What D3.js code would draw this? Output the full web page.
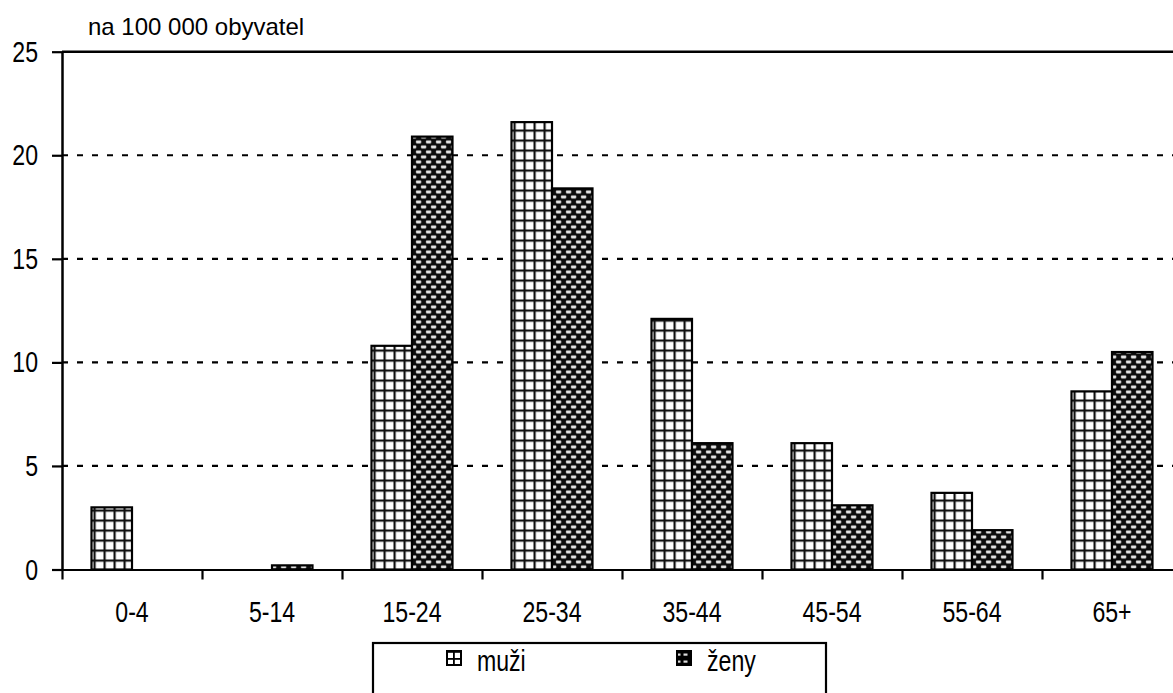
<!DOCTYPE html>
<html>

<head>
    <meta charset="utf-8">
    <title>na 100 000 obyvatel</title>
    <script src="https://d3js.org/d3.v7.min.js"></script>
    <style>
        body { margin: 0; background: #fff; }
        .lbl { font-family: "Liberation Sans", Arial, sans-serif; font-size: 30px; fill: #000; }
        .ttl { font-family: "Liberation Sans", Arial, sans-serif; font-size: 24px; fill: #000; }
    </style>
</head>

<body>
    <script>
        // data
        const categories = ["0-4", "5-14", "15-24", "25-34", "35-44", "45-54", "55-64", "65+"];
        const series = ["muži", "ženy"];
        const muzi = [3.0, 0, 10.8, 21.6, 12.1, 6.1, 3.7, 8.6];
        const zeny = [0, 0.2, 20.9, 18.4, 6.1, 3.1, 1.9, 10.5];
        const yTicks = [0, 5, 10, 15, 20, 25];

        const W = 1173, H = 693;
        const plotLeft = 62, plotBottom = 569.5, plotTop = 51.7;
        const catW = 140;
        const narrow = 0.77; // squeeze text horizontally, no narrow font available

        const svg = d3.select("body").append("svg")
            .attr("width", W).attr("height", H);

        const defs = svg.append("defs");

        // grid pattern (muži)
        const pGrid = defs.append("pattern").attr("id", "grid")
            .attr("patternUnits", "userSpaceOnUse")
            .attr("x", 91.5).attr("y", plotBottom)
            .attr("width", 10).attr("height", 10);
        pGrid.append("rect").attr("width", 10).attr("height", 10).attr("fill", "#fff");
        pGrid.append("rect").attr("x", -0.8).attr("width", 3).attr("height", 10).attr("fill", "#111");
        pGrid.append("rect").attr("y", -0.8).attr("width", 10).attr("height", 3).attr("fill", "#111");

        // brick dash pattern (ženy)
        const pBrick = defs.append("pattern").attr("id", "brick")
            .attr("patternUnits", "userSpaceOnUse")
            .attr("x", 132).attr("y", plotBottom)
            .attr("width", 10).attr("height", 10);
        pBrick.append("rect").attr("width", 10).attr("height", 10).attr("fill", "#0d0d0d");
        [[1.8, 1], [6.8, 6], [-3.2, 6]].forEach(d => {
            pBrick.append("rect").attr("x", d[0]).attr("y", d[1])
                .attr("width", 5.6).attr("height", 3).attr("rx", 1.4)
                .attr("fill", "#e2e2e2");
        });

        // small versions for the legend
        const lGrid = defs.append("pattern").attr("id", "lgrid")
            .attr("patternUnits", "userSpaceOnUse")
            .attr("x", 447).attr("y", 651)
            .attr("width", 7).attr("height", 7);
        lGrid.append("rect").attr("width", 7).attr("height", 7).attr("fill", "#fff");
        lGrid.append("rect").attr("x", -1.2).attr("width", 3).attr("height", 7).attr("fill", "#000");
        lGrid.append("rect").attr("y", -1.2).attr("width", 7).attr("height", 3).attr("fill", "#000");

        const lBrick = defs.append("pattern").attr("id", "lbrick")
            .attr("patternUnits", "userSpaceOnUse")
            .attr("x", 677).attr("y", 651)
            .attr("width", 7).attr("height", 7);
        lBrick.append("rect").attr("width", 7).attr("height", 7).attr("fill", "#000");
        lBrick.append("rect").attr("x", 1.5).attr("y", 2.5).attr("width", 4).attr("height", 2.2).attr("fill", "#ddd");

        const fills = { "muži": "url(#grid)", "ženy": "url(#brick)" };
        const legendFills = { "muži": "url(#lgrid)", "ženy": "url(#lbrick)" };
        const values = { "muži": muzi, "ženy": zeny };

        // scales
        const x0 = d3.scaleBand().domain(categories)
            .range([plotLeft, plotLeft + catW * categories.length]);
        const x1 = d3.scaleBand().domain(series).range([29.5, 110.5]);
        const xEdge = d3.scaleLinear().domain([0, categories.length])
            .range([plotLeft, plotLeft + catW * categories.length]);
        const y = d3.scaleLinear().domain([0, 25]).range([plotBottom, plotTop]);

        // gridlines
        svg.append("g").selectAll("line")
            .data(yTicks.filter(t => t > 0 && t < 25))
            .join("line")
            .attr("x1", plotLeft).attr("x2", W)
            .attr("y1", d => y(d)).attr("y2", d => y(d))
            .attr("stroke", "#000").attr("stroke-width", 2.2)
            .attr("stroke-dasharray", "6,9");
        svg.append("line")
            .attr("x1", plotLeft).attr("x2", W)
            .attr("y1", y(25)).attr("y2", y(25))
            .attr("stroke", "#000").attr("stroke-width", 2.4);

        // bars
        const groups = svg.append("g").selectAll("g")
            .data(categories)
            .join("g")
            .attr("transform", d => `translate(${x0(d)},0)`);
        groups.selectAll("rect")
            .data((c, i) => series.map(s => ({ s: s, v: values[s][i] })))
            .join("rect")
            .attr("x", d => x1(d.s))
            .attr("width", x1.bandwidth())
            .attr("y", d => y(d.v))
            .attr("height", d => y(0) - y(d.v))
            .attr("fill", d => fills[d.s])
            .attr("stroke", "#000").attr("stroke-width", 2.2);

        // y axis
        const yAxis = svg.append("g").attr("transform", `translate(${plotLeft},0)`)
            .call(d3.axisLeft(y).tickValues(yTicks).tickSize(10).tickSizeOuter(0).tickPadding(14));
        yAxis.select(".domain").attr("stroke", "#000").attr("stroke-width", 2.5);
        yAxis.selectAll(".tick line").attr("stroke", "#000").attr("stroke-width", 2.2);
        yAxis.selectAll("text").attr("class", "lbl")
            .attr("x", -24 / narrow)
            .attr("transform", `scale(${narrow},1)`);
        yAxis.attr("font-size", null).attr("font-family", null);

        // x axis: ticks at category edges
        const xTicks = svg.append("g").attr("transform", `translate(0,${plotBottom})`)
            .call(d3.axisBottom(xEdge).tickValues(d3.range(0, categories.length + 1))
                .tickSize(10).tickSizeOuter(0).tickFormat(""));
        xTicks.select(".domain").attr("stroke", "#000").attr("stroke-width", 2.2);
        xTicks.selectAll(".tick line").attr("stroke", "#000").attr("stroke-width", 2.2);

        const xLabels = svg.append("g").attr("transform", `translate(0,${plotBottom})`)
            .call(d3.axisBottom(x0).tickSize(0).tickPadding(31.5));
        xLabels.select(".domain").remove();
        xLabels.selectAll("text").attr("class", "lbl")
            .attr("transform", `scale(${narrow},1)`);
        xLabels.attr("font-size", null).attr("font-family", null);

        // title
        svg.append("text").attr("class", "ttl")
            .attr("x", 88).attr("y", 35)
            .text("na 100 000 obyvatel");

        // legend
        svg.append("rect")
            .attr("x", 373).attr("y", 643).attr("width", 453).attr("height", 70)
            .attr("fill", "#fff").attr("stroke", "#000").attr("stroke-width", 2.2);
        const legendX = { "muži": 447, "ženy": 677 };
        const lg = svg.append("g").selectAll("g")
            .data(series).join("g")
            .attr("transform", d => `translate(${legendX[d]},651)`);
        lg.append("rect")
            .attr("width", 14).attr("height", 14)
            .attr("fill", d => legendFills[d])
            .attr("stroke", "#000").attr("stroke-width", 2);
        lg.append("text").attr("class", "lbl")
            .attr("x", 30 / narrow).attr("y", 20)
            .attr("transform", `scale(${narrow},1)`)
            .text(d => d);
    </script>
</body>

</html>
